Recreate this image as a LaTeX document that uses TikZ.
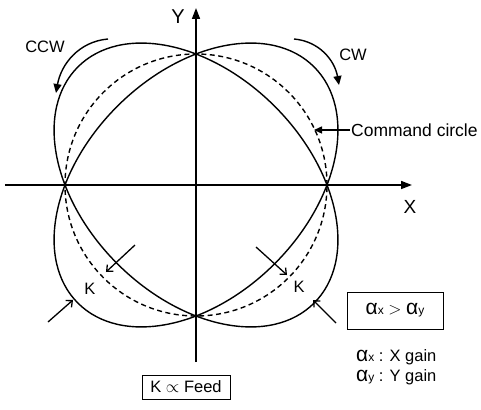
\documentclass[tikz,border=0pt]{standalone}
\usepackage{fontspec}
\setmainfont{Liberation Sans}
\usetikzlibrary{arrows.meta,positioning}
\newcommand{\alx}{{\fontsize{21}{22}\selectfont α}{\fontsize{12}{13}\selectfont x}}
\newcommand{\aly}{{\fontsize{21}{22}\selectfont α}{\fontsize{12}{13}\selectfont y}}

\begin{document}
\begin{tikzpicture}[x=1pt,y=1pt,
  curve/.style={line width=1.4pt},
  axis/.style={line width=1.6pt,-{Triangle[length=11pt,width=8pt]}},
  turn/.style={line width=1.4pt,-{Triangle[length=9pt,width=8pt]}},
  kpoint/.style={line width=1.3pt,-{Straight Barb[length=5pt,width=9pt]}},
  txt/.style={font=\fontsize{16.5}{19}\selectfont,inner sep=1pt},
  gainbox/.style={draw,line width=1pt,inner sep=0pt}]
\useasboundingbox (-196,-224) rectangle (285,185);
% axes
\coordinate (O) at (0,0);
\coordinate (xs) at (-191,0); \coordinate (xe) at (216,0);
\coordinate (ys) at (0,-177); \coordinate (ye) at (0,177);
\draw[axis] (xs) -- (xe);
\draw[axis] (ys) -- (ye);
\node[txt,font=\fontsize{20}{22}\selectfont] (ylab) at (-18,168) {Y};
\node[txt,font=\fontsize{19}{21}\selectfont] (xlab) at (214,-22) {X};
% command circle and the two tilted paths
\draw[curve,dash pattern=on 5pt off 3.5pt] (O) circle (131);
\draw[curve,rotate=45] (O) ellipse [x radius=111.3,y radius=167];
\draw[curve,rotate=-45] (O) ellipse [x radius=111.3,y radius=167];
% direction of motion
\node[txt] (ccw) at (-151,138) {CCW};
\coordinate (ccws) at (-88,146); \coordinate (ccwe) at (-140,92);
\draw[turn] (ccws) to[out=185,in=80] (ccwe);
\node[txt] (cw) at (157,130) {CW};
\coordinate (cws) at (98,146); \coordinate (cwe) at (143,100);
\draw[turn] (cws) to[out=-5,in=100] (cwe);
\node[txt,anchor=west,font=\fontsize{17.5}{20}\selectfont] (cmd) at (154,55) {Command circle};
\coordinate (cmdpt) at (118,55);
\draw[line width=1.4pt,-{Triangle[length=8pt,width=7pt]}] (cmd.west) -- (cmdpt);
% contour error K
\node[txt] (kl) at (-106,-104) {K};
\node[txt] (kr) at (103,-102) {K};
\foreach \a/\b [count=\i] in {{-61,-60}/{-90,-87},{-148,-137}/{-123,-115},
    {60,-62}/{91,-90},{140,-138}/{117,-115}}{
  \coordinate (k\i s) at (\a); \coordinate (k\i e) at (\b);
  \draw[kpoint] (k\i s) -- (k\i e);}
% notes
\node[txt,gainbox,minimum width=96pt,minimum height=37pt] (gain) at (199,-125.5)
  {\alx\ $>$ \aly};
\node[txt,anchor=west] (gx) at (159,-172) {\alx\ : X gain};
\node[txt,anchor=west] (gy) at (159,-192) {\aly\ : Y gain};
\node[txt,gainbox,minimum width=88pt,minimum height=24pt] (feed) at (-10,-202)
  {K $\propto$ Feed};
\end{tikzpicture}
\end{document}
